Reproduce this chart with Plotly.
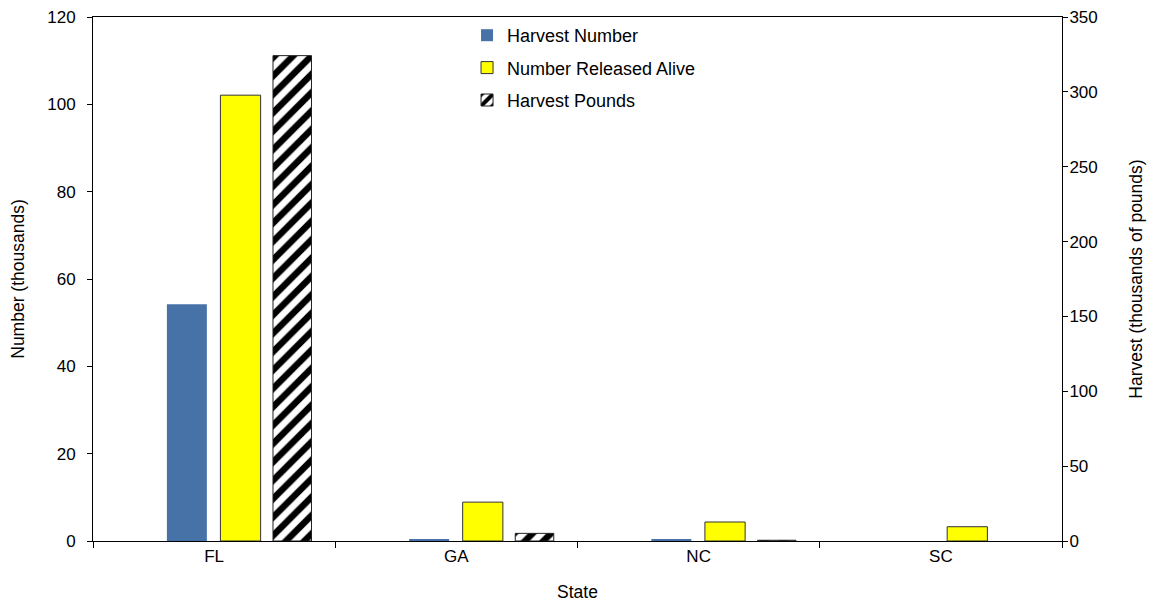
import plotly.graph_objects as go

states = ["FL", "GA", "NC", "SC"]
harvest_number = [54.2, 0.4, 0.45, None]          # thousands
released_alive = [102.1, 8.9, 4.35, 3.27]         # thousands
harvest_pounds = [324.2, 5.1, 0.5, None]          # thousands of pounds

FONT = "Liberation Sans, Arial, sans-serif"

fig = go.Figure()
fig.add_trace(go.Bar(
    x=states, y=harvest_number, name="Harvest Number",
    marker=dict(color="#4672A8", line=dict(width=0)),
    offset=-0.195, width=0.165, yaxis="y", legendgroup="a",
))
fig.add_trace(go.Bar(
    x=states, y=released_alive, name="Number Released Alive",
    marker=dict(color="#FFFF00", line=dict(color="#333333", width=1)),
    offset=0.026, width=0.166, yaxis="y", legendgroup="b",
))
fig.add_trace(go.Bar(
    x=states, y=harvest_pounds, name="Harvest Pounds",
    marker=dict(color="white", line=dict(color="#222222", width=1),
                pattern=dict(shape="/", fgcolor="black", bgcolor="white",
                             fgopacity=1, size=13, solidity=0.5)),
    offset=0.243, width=0.159, yaxis="y2", legendgroup="c",
))

# page body has an 8px margin, so the figure is drawn 8px smaller
fig.update_layout(
    width=1147, height=597,
    margin=dict(l=85, r=93, t=9, b=64),
    paper_bgcolor="white", plot_bgcolor="white",
    barmode="overlay",
    font=dict(family=FONT, size=17, color="black"),
    showlegend=True,
    legend=dict(x=0.386, y=1.0, xanchor="left", yanchor="top",
                bgcolor="rgba(0,0,0,0)", font=dict(size=18),
                tracegroupgap=6, itemwidth=30),
    xaxis=dict(
        type="category", range=[-0.5, 3.5], automargin=False,
        showline=True, linecolor="black", linewidth=1, mirror=True,
        ticks="outside", ticklen=6, tickcolor="black", tickson="boundaries",
        showgrid=False, zeroline=False,
        title=dict(text="State", font=dict(size=17.5), standoff=20),
    ),
    yaxis=dict(
        range=[0, 120], dtick=20, automargin=False, ticklabeloverflow="allow",
        showline=True, linecolor="black", linewidth=1,
        ticks="outside", ticklen=5, tickcolor="black", ticklabelstandoff=8,
        showgrid=False, zeroline=False,
        title=dict(text="Number (thousands)", font=dict(size=17.5), standoff=26),
    ),
    yaxis2=dict(
        range=[0, 350], dtick=50, overlaying="y", side="right", automargin=False,
        ticklabeloverflow="allow",
        showline=True, linecolor="black", linewidth=1,
        ticks="outside", ticklen=5, tickcolor="black", ticklabelstandoff=-2,
        showgrid=False, zeroline=False,
        title=dict(text="Harvest (thousands of pounds)", font=dict(size=17.5), standoff=32),
    ),
    yaxis3=dict(
        range=[0, 350], dtick=50, overlaying="y", side="right", automargin=False,
        showline=False, ticks="inside", ticklen=5, tickcolor="black",
        showticklabels=False, showgrid=False, zeroline=False,
    ),
)

fig.write_html("out.html")
